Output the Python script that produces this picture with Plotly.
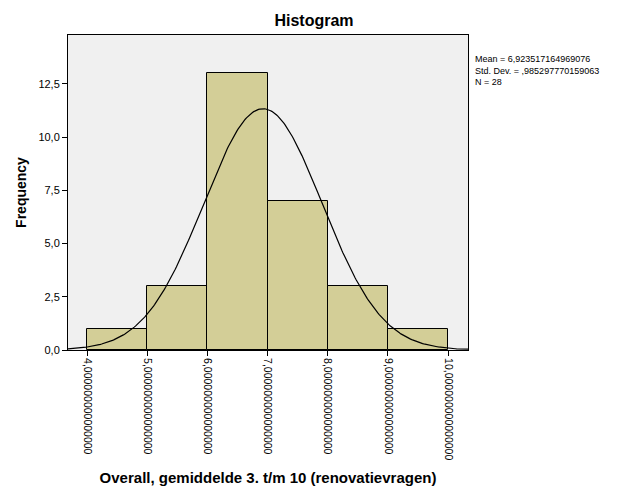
import numpy as np
import plotly.graph_objects as go

bin_centers = [4.5, 5.5, 6.5, 7.5, 8.5, 9.5]
counts = [1, 3, 13, 7, 3, 1]
bin_width = 1.0
mean = 6.923517164969076
std = 0.985297770159063
n = 28

x_tick_vals = [4, 5, 6, 7, 8, 9, 10]
x_tick_text = ["4,000000000000000", "5,000000000000000", "6,000000000000000",
               "7,000000000000000", "8,000000000000000", "9,000000000000000",
               "10,000000000000000"]
y_tick_vals = [0, 2.5, 5, 7.5, 10, 12.5]
y_tick_text = ["0,0", "2,5", "5,0", "7,5", "10,0", "12,5"]

font_family = "Arial, Liberation Sans, sans-serif"

xs = np.linspace(3.0, 11.0, 400)
ys = n * bin_width * np.exp(-0.5 * ((xs - mean) / std) ** 2) / (std * np.sqrt(2 * np.pi))

fig = go.Figure()
fig.add_trace(go.Bar(
    x=bin_centers, y=counts, width=bin_width,
    marker=dict(color="#d3ce97", line=dict(color="black", width=1)),
    hoverinfo="skip",
))
fig.add_trace(go.Scatter(
    x=xs, y=ys, mode="lines", line=dict(color="black", width=1.2),
    hoverinfo="skip",
))

fig.update_layout(
    width=626, height=501,
    margin=dict(l=68, r=158, t=35, b=151),
    paper_bgcolor="white", plot_bgcolor="#f0f0f0",
    showlegend=False,
    font=dict(family=font_family, size=11, color="black"),
    title=dict(text="<b>Histogram</b>", x=314 / 626, xanchor="center",
               y=1 - 20 / 501, yanchor="middle",
               font=dict(size=16, family=font_family, color="black")),
    bargap=0,
)
fig.update_xaxes(
    range=[3.684, 10.33], tickvals=x_tick_vals, ticktext=x_tick_text,
    tickangle=90, ticks="outside", ticklen=5, tickcolor="black",
    showgrid=False, zeroline=False,
    showline=True, linecolor="black", linewidth=1, mirror=True,
    tickfont=dict(size=10.5, family=font_family),
    title=dict(text="<b>Overall, gemiddelde 3. t/m 10 (renovatievragen)</b>",
               font=dict(size=15, family=font_family), standoff=13),
)
fig.update_yaxes(
    range=[0, 14.8], tickvals=y_tick_vals, ticktext=y_tick_text,
    ticks="outside", ticklen=5, tickcolor="black",
    showgrid=False, zeroline=False,
    showline=True, linecolor="black", linewidth=1, mirror=True,
    tickfont=dict(size=11, family=font_family),
    title=dict(text="<b>Frequency</b>", font=dict(size=14, family=font_family),
               standoff=8),
)
fig.add_annotation(
    xref="paper", yref="paper", x=(473 - 68) / 400, y=1 - (52 - 35) / 315,
    xanchor="left", yanchor="top", align="left", showarrow=False,
    text=f"Mean = 6,923517164969076<br>Std. Dev. = ,985297770159063<br>N = {n}",
    font=dict(size=9, family=font_family, color="black"),
)

fig.write_html("out.html")
